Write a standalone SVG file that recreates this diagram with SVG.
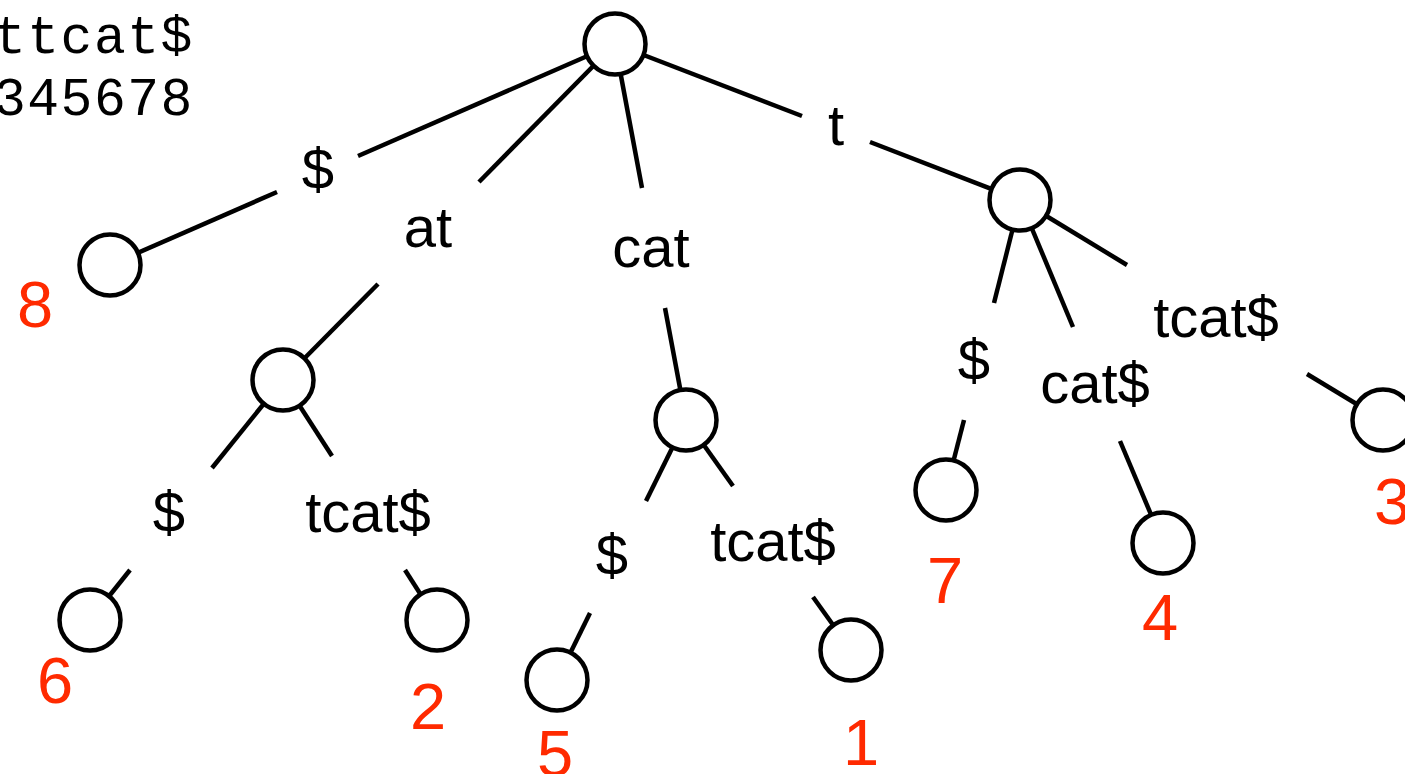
<svg xmlns="http://www.w3.org/2000/svg" width="1405" height="774" viewBox="0 0 1405 774">
<style>
.e{stroke:#000;stroke-width:4.5;fill:none;stroke-linecap:butt}
.n{fill:#fff;stroke:#000;stroke-width:4.5}
.l{font-family:"Liberation Sans",Arial,Helvetica,sans-serif;font-size:58px;fill:#000;text-anchor:middle}
.r{font-family:"Liberation Sans",Arial,Helvetica,sans-serif;font-size:65px;fill:#ff2a00;text-anchor:middle}
.m{font-family:"Liberation Mono","Courier New",monospace;font-size:53px;fill:#000;letter-spacing:1.5px}
</style>
<rect width="1405" height="774" fill="#fff"/>
<g id="header">
<text class="m" x="-6" y="53">ttcat$</text>
<text class="m" x="-6" y="115">345678</text>
</g>
<g id="connectors">
<line class="e" x1="615" y1="44" x2="358" y2="156"/>
<line class="e" x1="277" y1="192" x2="110" y2="265"/>
<line class="e" x1="615" y1="44" x2="479" y2="182"/>
<line class="e" x1="378" y1="284" x2="283" y2="380"/>
<line class="e" x1="615" y1="44" x2="642" y2="188"/>
<line class="e" x1="665" y1="308" x2="686" y2="420"/>
<line class="e" x1="615" y1="44" x2="802" y2="116"/>
<line class="e" x1="870" y1="142" x2="1020" y2="200"/>
<line class="e" x1="283" y1="380" x2="212" y2="468"/>
<line class="e" x1="130" y1="570" x2="90" y2="620"/>
<line class="e" x1="283" y1="380" x2="332" y2="456"/>
<line class="e" x1="405" y1="570" x2="437" y2="620"/>
<line class="e" x1="686" y1="420" x2="646" y2="501"/>
<line class="e" x1="590" y1="613" x2="557" y2="680"/>
<line class="e" x1="686" y1="420" x2="733" y2="486"/>
<line class="e" x1="813" y1="597" x2="851" y2="650"/>
<line class="e" x1="1020" y1="200" x2="994" y2="303"/>
<line class="e" x1="964" y1="420" x2="946" y2="490"/>
<line class="e" x1="1020" y1="200" x2="1073" y2="327"/>
<line class="e" x1="1120" y1="441" x2="1163" y2="543"/>
<line class="e" x1="1020" y1="200" x2="1127" y2="265"/>
<line class="e" x1="1307" y1="374" x2="1383" y2="420"/>
</g>
<g id="edge-labels">
<text class="l" x="318" y="189">$</text>
<text class="l" x="428" y="247">at</text>
<text class="l" x="651" y="267">cat</text>
<text class="l" x="836" y="145">t</text>
<text class="l" x="169" y="532">$</text>
<text class="l" x="368" y="532">tcat$</text>
<text class="l" x="612" y="575">$</text>
<text class="l" x="773" y="561">tcat$</text>
<text class="l" x="974" y="380">$</text>
<text class="l" x="1095" y="403">cat$</text>
<text class="l" x="1216" y="337">tcat$</text>
</g>
<g id="root"><circle class="n" cx="615" cy="44" r="30.5"/></g>
<g id="node-t"><circle class="n" cx="1020" cy="200" r="30.5"/></g>
<g id="node-at"><circle class="n" cx="283" cy="380" r="30.5"/></g>
<g id="node-cat"><circle class="n" cx="686" cy="420" r="30.5"/></g>
<g id="leaf-8"><circle class="n" cx="110" cy="265" r="30.5"/><text class="r" x="35" y="327">8</text></g>
<g id="leaf-6"><circle class="n" cx="90" cy="620" r="30.5"/><text class="r" x="55" y="703">6</text></g>
<g id="leaf-2"><circle class="n" cx="437" cy="620" r="30.5"/><text class="r" x="428" y="729">2</text></g>
<g id="leaf-5"><circle class="n" cx="557" cy="680" r="30.5"/><text class="r" x="555" y="776">5</text></g>
<g id="leaf-1"><circle class="n" cx="851" cy="650" r="30.5"/><text class="r" x="861" y="765">1</text></g>
<g id="leaf-7"><circle class="n" cx="946" cy="490" r="30.5"/><text class="r" x="945" y="603">7</text></g>
<g id="leaf-4"><circle class="n" cx="1163" cy="543" r="30.5"/><text class="r" x="1160" y="640">4</text></g>
<g id="leaf-3"><circle class="n" cx="1383" cy="420" r="30.5"/><text class="r" x="1392" y="524">3</text></g>
</svg>
